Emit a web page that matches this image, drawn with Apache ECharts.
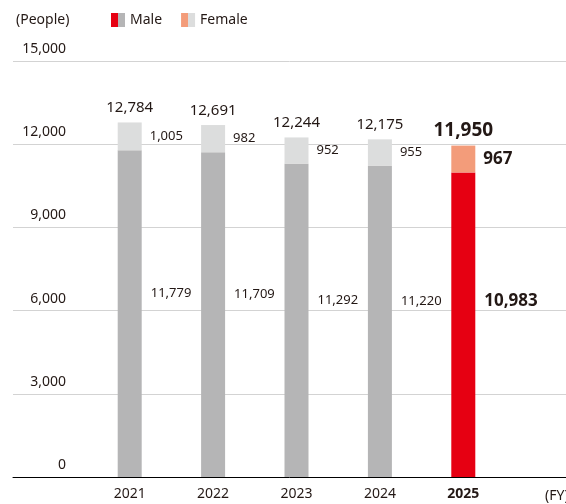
<!DOCTYPE html>
<html>
<head>
<meta charset="utf-8">
<script src="https://cdn.jsdelivr.net/npm/echarts@6/dist/echarts.min.js"></script>
<style>html,body{margin:0;padding:0;background:#fff}#c{width:566px;height:504px}</style>
</head>
<body>
<div id="c"></div>
<script>
const years = ['2021', '2022', '2023', '2024', '2025'];
const male = [11779, 11709, 11292, 11220, 10983];
const female = [1005, 982, 952, 955, 967];
const yTicks = { min: 0, max: 15000, interval: 3000 };

const FONT = '"Noto Sans", sans-serif';
const TXT = '#231815';
const GRAY = '#b5b5b6';
const LGRAY = '#dcdddd';
const RED = '#e60012';
const SALMON = '#f39c7a';
const last = years.length - 1;
const totals = male.map((m, i) => m + female[i]);

function split(c1, c2) {
  return { type: 'linear', x: 0, y: 0, x2: 1, y2: 0,
    colorStops: [{offset: 0, color: c1}, {offset: 0.5, color: c1}, {offset: 0.5, color: c2}, {offset: 1, color: c2}] };
}
const fmt = v => v.toLocaleString('en-US');

const chart = echarts.init(document.getElementById('c'));
chart.setOption({
  animation: false,
  textStyle: { fontFamily: FONT, color: TXT },
  title: [
    { text: '(People)', left: 11, top: 8, textStyle: { fontFamily: FONT, fontSize: 14, fontWeight: 'normal', color: TXT } },
    { text: '(FY)', left: 540, top: 484, textStyle: { fontFamily: FONT, fontSize: 14, fontWeight: 'normal', color: TXT } }
  ],
  legend: {
    left: 106, top: 8, itemWidth: 14, itemHeight: 14, itemGap: 19,
    textStyle: { fontFamily: FONT, fontSize: 14, color: TXT },
    data: [
      { name: 'Male', icon: 'rect', itemStyle: { color: split(RED, GRAY) } },
      { name: 'Female', icon: 'rect', itemStyle: { color: split(SALMON, LGRAY) } }
    ]
  },
  grid: [
    { left: 13, right: 0, top: 61, bottom: 27 },
    { left: 88, right: 61, top: 61, bottom: 27 }
  ],
  xAxis: [
    { gridIndex: 0, type: 'category', data: [''], axisLine: { lineStyle: { color: '#000', width: 1 } }, axisTick: { show: false }, axisLabel: { show: false }, z: 5 },
    { gridIndex: 1, type: 'category', data: years.map((y, i) => i === last ? { value: y, textStyle: { fontWeight: 'bold' } } : y),
      axisLine: { show: false }, axisTick: { show: false },
      axisLabel: { fontFamily: FONT, fontSize: 14, color: TXT, margin: 10 } }
  ],
  yAxis: [
    { gridIndex: 0, type: 'value', min: yTicks.min, max: yTicks.max, interval: yTicks.interval,
      axisLine: { show: false }, axisTick: { show: false },
      splitLine: { lineStyle: { color: '#d3d3d3', width: 1 } },
      axisLabel: { inside: true, align: 'right', margin: 53, verticalAlign: 'bottom', padding: [0, 0, 5, 0],
        fontFamily: FONT, fontSize: 14, color: TXT, formatter: v => fmt(v) } },
    { gridIndex: 1, type: 'value', min: yTicks.min, max: yTicks.max, interval: yTicks.interval, show: false }
  ],
  series: [
    { name: 'Male', type: 'bar', xAxisIndex: 1, yAxisIndex: 1, stack: 'total', barWidth: 24,
      itemStyle: { color: GRAY },
      label: { show: true, position: 'right', distance: 9, offset: [0, -20], fontFamily: FONT, fontSize: 13, color: TXT, formatter: p => fmt(p.value) },
      data: male.map((v, i) => i === last ? { value: v, itemStyle: { color: RED }, label: { fontSize: 17, fontWeight: 'bold', offset: [0, -24] } } : v) },
    { name: 'Female', type: 'bar', xAxisIndex: 1, yAxisIndex: 1, stack: 'total', barWidth: 24,
      itemStyle: { color: LGRAY },
      label: { show: true, position: 'right', distance: 8, fontFamily: FONT, fontSize: 13, color: TXT, formatter: p => fmt(p.value) },
      data: female.map((v, i) => i === last ? { value: v, itemStyle: { color: SALMON }, label: { fontSize: 17, fontWeight: 'bold' } } : v) },
    { name: 'Total', type: 'scatter', xAxisIndex: 1, yAxisIndex: 1, symbol: 'circle', symbolSize: 0,
      itemStyle: { color: '#ffffff', opacity: 1 }, silent: true, z: 10,
      label: { show: true, position: 'top', distance: 7, fontFamily: FONT, fontSize: 15, color: TXT, opacity: 1, formatter: p => fmt(p.value) },
      data: totals.map((v, i) => i === last ? { value: v, label: { fontSize: 19, fontWeight: 'bold', distance: 5 } } : v) }
  ]
});
</script>
</body>
</html>
